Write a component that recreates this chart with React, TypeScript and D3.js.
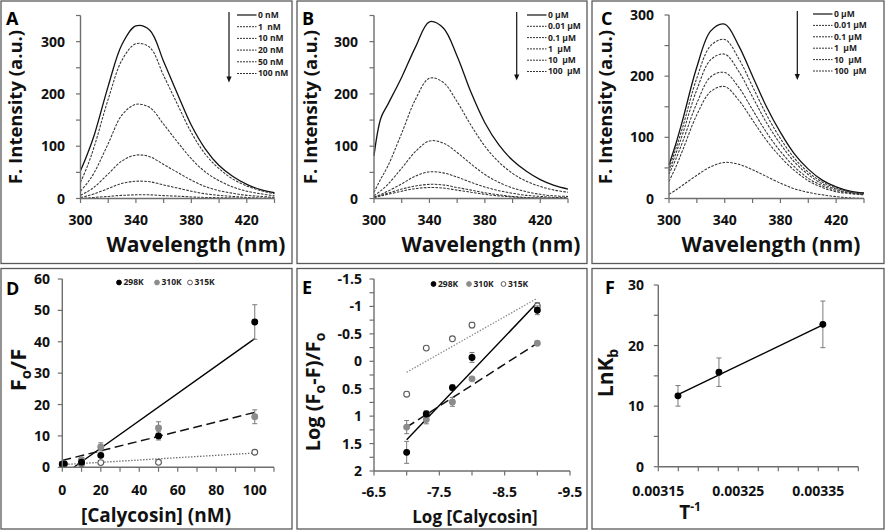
import React from "react";
import * as d3 from "d3";

const FONT = "'Open Sans', 'Liberation Sans', sans-serif";
const AXIS_COLOR = "#6e6e6e";
const CURVE_COLOR = "#333333";
const BORDER_COLOR = "#5a5a5a";

// ---------- Panels A-C : emission spectra ----------
const wavelengths = [300, 305, 310, 320, 330, 340, 350, 360, 370, 380, 390, 400, 410, 420, 430, 440];

const spectraA = [
  [53, 85, 122, 215, 295, 330, 322, 262, 200, 140, 95, 63, 42, 27, 17, 11],
  [31, 62, 100, 190, 265, 296, 289, 235, 180, 126, 85, 57, 37, 24, 15, 9],
  [14, 30, 50, 105, 160, 180, 174, 142, 108, 76, 51, 34, 22, 14, 9, 5],
  [6, 13, 22, 47, 72, 83, 80, 65, 50, 35, 23, 15, 10, 6, 4, 2],
  [2, 5, 9, 19, 29, 33, 32, 26, 20, 14, 9, 6, 4, 2, 1, 1],
  [0, 1, 2, 4, 6, 7, 7, 5.5, 4.5, 3, 2, 1.5, 1, 0.5, 0, 0],
];

const spectraB = [
  [82, 154, 180, 232, 290, 338, 326, 272, 203, 145, 103, 73, 52, 36, 25, 18],
  [12, 38, 62, 125, 190, 230, 222, 185, 140, 100, 70, 48, 33, 23, 16, 12],
  [5, 15, 27, 58, 90, 110, 106, 88, 66, 46, 31, 20, 13, 8, 5, 4],
  [3, 8, 14, 28, 43, 51, 49, 41, 31, 22, 15, 10, 6, 4, 2, 2],
  [2, 6, 10, 18, 24, 27, 26, 21, 16, 11, 7, 4, 2, 1, 1, 0],
  [2, 5, 8, 14, 19, 21, 20, 16, 12, 8, 5, 3, 1, 1, 0, 0],
];

const spectraC = [
  [55, 90, 130, 215, 274, 285, 250, 200, 150, 108, 73, 48, 30, 19, 12, 9],
  [50, 82, 118, 197, 250, 260, 229, 183, 137, 98, 66, 43, 27, 17, 11, 8],
  [45, 74, 107, 178, 227, 236, 208, 166, 124, 89, 60, 39, 24, 15, 10, 7],
  [40, 65, 94, 156, 199, 206, 182, 145, 108, 77, 52, 33, 21, 13, 9, 6],
  [28, 52, 80, 137, 175, 183, 161, 128, 95, 68, 46, 29, 18, 11, 8, 6],
  [7, 14, 22, 38, 52, 59, 56, 47, 36, 25, 16, 10, 6, 3, 1, 0],
];

const legendA = ["0 nM", "1  nM", "10 nM", "20 nM", "50 nM", "100 nM"];
const legendB = ["0 \u00b5M", "0.01 \u00b5M", "0.1 \u00b5M", "1  \u00b5M", "10  \u00b5M", "100  \u00b5M"];
const legendC = ["0 \u00b5M", "0.01 \u00b5M", "0.1 \u00b5M", "1  \u00b5M", "10  \u00b5M", "100  \u00b5M"];

const wlTicks = [300, 320, 340, 360, 380, 400, 420, 440];
const wlLabels = [300, 340, 380, 420];
const intTicksAB = [0, 50, 100, 150, 200, 250, 300, 350];
const intTicksC = [0, 50, 100, 150, 200, 250, 300];
const intLabels = [0, 100, 200, 300];

// ---------- Shared temperature series ----------
const tempLabels = ["298K", "310K", "315K"];

// ---------- Panel D : Stern-Volmer ----------
const concD = [0, 1, 10, 20, 50, 100];
const fD298 = [1.0, 1.1, 1.6, 3.8, 10.0, 46.3];
const fD298Err = [0, 0.1, 0.3, 0.5, 1.3, 5.5];
const fD310 = [1.1, 1.2, 2.4, 6.5, 12.5, 16.1];
const fD310Err = [0, 0.2, 0.6, 1.3, 2.0, 2.2];
const fD315 = [1.0, 1.0, 1.1, 1.5, 1.6, 4.8];
const fD315Err = [0, 0.1, 0.2, 0.2, 0.3, 0.3];
const fitDSlope = [0.436, 0.153, 0.037];
const fitDIntercept = [-2.6, 2.2, 0.85];
const fitDFrom = [6, 0, 0];
const fitDTo = [100, 100, 100];
const concTicks = [0, 10, 20, 30, 40, 50, 60, 70, 80, 90, 100, 110];
const concLabels = [0, 20, 40, 60, 80, 100];
const foTicks = [0, 10, 20, 30, 40, 50, 60];

// ---------- Panel E : double log ----------
const logConcE = [-7, -7.3, -7.7, -8, -9];
const eE298 = [1.66, 0.96, 0.48, -0.07, -0.93];
const eE298Err = [0.2, 0.06, 0.05, 0.09, 0.08];
const eE310 = [1.2, 1.06, 0.74, 0.32, -0.33];
const eE310Err = [0.12, 0.08, 0.08, 0.02, 0.02];
const eE315 = [0.6, -0.24, -0.41, -0.66, -1.01];
const eE315Err = [0.04, 0.02, 0.02, 0.05, 0.06];
const fitEFrom = [-7, -7, -7];
const fitETo = [-9, -9, -9];
const fitEStartY = [1.43, 1.2, 0.2];
const fitEEndY = [-1.07, -0.33, -1.15];
const logTicks = [-6.5, -7, -7.5, -8, -8.5, -9, -9.5];
const logLabels = [-6.5, -7.5, -8.5, -9.5];
const eYTicks = [-1.5, -1.25, -1, -0.75, -0.5, -0.25, 0, 0.25, 0.5, 0.75, 1, 1.25, 1.5, 1.75, 2];
const eYLabels = [-1.5, -1, -0.5, 0, 0.5, 1, 1.5, 2];

// ---------- Panel F : van't Hoff ----------
const invT = [1 / 315, 1 / 310, 1 / 298];
const lnKb = [11.7, 15.6, 23.5];
const lnKbErr = [1.7, 2.35, 3.85];
const fitFStartY = 11.9;
const fitFEndY = 23.4;
const invTTicks = d3.range(0, 11).map((i) => +(0.00315 + i * 0.000025).toFixed(6));
const invTLabels = [0.00315, 0.00325, 0.00335];
const lnTicks = [0, 5, 10, 15, 20, 25, 30];
const lnLabels = [0, 10, 20, 30];

// ---------- helpers ----------
type Scale = d3.ScaleLinear<number, number>;

const tickTextStyle: React.CSSProperties = { fontFamily: FONT, fontWeight: 700, fontSize: 14, fill: "#111" };

function XAxis({ s, y, ticks, labels, fmt, labelY }: { s: Scale; y: number; ticks: number[]; labels: number[]; fmt: (v: number) => string; labelY: number }) {
  const [r0, r1] = s.range();
  return (
    <g>
      <line x1={r0} x2={r1} y1={y} y2={y} stroke={AXIS_COLOR} strokeWidth={1.4} />
      {ticks.map((t, i) => (
        <line key={i} x1={s(t)} x2={s(t)} y1={y} y2={y + 4.5} stroke={AXIS_COLOR} strokeWidth={1.2} />
      ))}
      {labels.map((t, i) => (
        <text key={i} x={s(t)} y={labelY} textAnchor="middle" style={tickTextStyle}>
          {fmt(t)}
        </text>
      ))}
    </g>
  );
}

function YAxis({ s, x, ticks, labels, fmt, labelX }: { s: Scale; x: number; ticks: number[]; labels: number[]; fmt: (v: number) => string; labelX: number }) {
  const [r0, r1] = s.range();
  return (
    <g>
      <line x1={x} x2={x} y1={r0} y2={r1} stroke={AXIS_COLOR} strokeWidth={1.4} />
      {ticks.map((t, i) => (
        <line key={i} x1={x - 4.5} x2={x} y1={s(t)} y2={s(t)} stroke={AXIS_COLOR} strokeWidth={1.2} />
      ))}
      {labels.map((t, i) => (
        <text key={i} x={labelX} y={s(t)} dy="0.36em" textAnchor="end" style={tickTextStyle}>
          {fmt(t)}
        </text>
      ))}
    </g>
  );
}

function Border({ x0, y0, x1, y1 }: { x0: number; y0: number; x1: number; y1: number }) {
  return <rect x={x0} y={y0} width={x1 - x0} height={y1 - y0} fill="none" stroke={BORDER_COLOR} strokeWidth={1.3} />;
}

function PanelLetter({ x, y, t }: { x: number; y: number; t: string }) {
  return (
    <text x={x} y={y} style={{ fontFamily: FONT, fontWeight: 700, fontSize: 18, fill: "#000" }}>
      {t}
    </text>
  );
}

const dashCurve = "2.6,1.3";

type SpecGeom = {
  bx0: number; bx1: number;
  ax0: number; ax1: number;
  letterX: number;
  ylabX: number;
  xlabX: number;
  legLine0: number; legLine1: number; legY0: number; legStep: number;
  arrowX: number;
  yLabelX: number;
};

function SpectrumPanel({ g, letter, spectra, legend, yMax, yTicks, yTop }: { g: SpecGeom; letter: string; spectra: number[][]; legend: string[]; yMax: number; yTicks: number[]; yTop: number }) {
  const x = d3.scaleLinear().domain([300, 440]).range([g.ax0, g.ax1]);
  const y = d3.scaleLinear().domain([0, yMax]).range([198.5, yTop]);
  const line = d3
    .line<number>()
    .x((_, i) => x(wavelengths[i]))
    .y((v) => y(v))
    .curve(d3.curveCatmullRom.alpha(0.5));
  return (
    <g>
      <Border x0={g.bx0} y0={1} x1={g.bx1} y1={263.5} />
      <PanelLetter x={g.letterX} y={25} t={letter} />
      {spectra.map((s, i) => (
        <path
          key={i}
          d={line(s) || ""}
          fill="none"
          stroke={i === 0 ? "#111" : CURVE_COLOR}
          strokeWidth={i === 0 ? 1.3 : 1.05}
          strokeDasharray={i === 0 ? undefined : dashCurve}
        />
      ))}
      <XAxis s={x} y={198.5} ticks={wlTicks} labels={wlLabels} fmt={(v) => String(v)} labelY={225} />
      <YAxis s={y} x={g.ax0} ticks={yTicks} labels={intLabels} fmt={(v) => String(v)} labelX={g.yLabelX} />
      {legend.map((t, i) => {
        const ly = g.legY0 + i * g.legStep;
        return (
          <g key={i}>
            <line
              x1={g.legLine0}
              x2={g.legLine1}
              y1={ly}
              y2={ly}
              stroke={i === 0 ? "#111" : CURVE_COLOR}
              strokeWidth={i === 0 ? 1.2 : 1}
              strokeDasharray={i === 0 ? undefined : "2,1"}
            />
            <text
              x={g.legLine1 + 1.5}
              y={ly}
              dy="0.35em"
              style={{ fontFamily: FONT, fontWeight: 700, fontSize: 8.5, fill: "#222", whiteSpace: "pre" }}
            >
              {t}
            </text>
          </g>
        );
      })}
      <line x1={g.arrowX} x2={g.arrowX} y1={g.legY0 - 3} y2={g.legY0 + 5 * g.legStep + 4} stroke="#111" strokeWidth={1.2} />
      <path
        d={`M${g.arrowX - 2.6},${g.legY0 + 5 * g.legStep + 3} L${g.arrowX + 2.6},${g.legY0 + 5 * g.legStep + 3} L${g.arrowX},${g.legY0 + 5 * g.legStep + 9} Z`}
        fill="#111"
      />
      <text
        x={g.xlabX}
        y={251.5}
        textAnchor="middle"
        style={{ fontFamily: FONT, fontWeight: 700, fontSize: 21, fill: "#111" }}
      >
        Wavelength (nm)
      </text>
      <text
        transform={`translate(${g.ylabX},107) rotate(-90)`}
        textAnchor="middle"
        dy="0.35em"
        style={{ fontFamily: FONT, fontWeight: 700, fontSize: 18.5, fill: "#111" }}
      >
        F. Intensity (a.u.)
      </text>
    </g>
  );
}

const markerFill = ["#000", "#8c8c8c", "#fff"];
const markerStroke = ["#000", "#8c8c8c", "#5a5a5a"];
const fitStroke = ["#000", "#111", "#666"];
const fitDash = [undefined, "9,4.5", "1.4,1.6"];
const fitWidth = [1.4, 1.5, 1.3];
const ERR_COLOR = "#7a7a7a";

function Points({ xs, ys, errs, sx, sy, k }: { xs: number[]; ys: number[]; errs: number[]; sx: Scale; sy: Scale; k: number }) {
  return (
    <g>
      {xs.map((xv, i) => {
        const cx = sx(xv);
        const e = errs[i];
        return (
          <g key={i}>
            {e > 0 && (
              <g stroke={ERR_COLOR} strokeWidth={1}>
                <line x1={cx} x2={cx} y1={sy(ys[i] - e)} y2={sy(ys[i] + e)} />
                <line x1={cx - 2.5} x2={cx + 2.5} y1={sy(ys[i] - e)} y2={sy(ys[i] - e)} />
                <line x1={cx - 2.5} x2={cx + 2.5} y1={sy(ys[i] + e)} y2={sy(ys[i] + e)} />
              </g>
            )}
            <circle cx={cx} cy={sy(ys[i])} r={2.9} fill={markerFill[k]} stroke={markerStroke[k]} strokeWidth={1.1} />
          </g>
        );
      })}
    </g>
  );
}

function TempLegend({ xs, y }: { xs: number[]; y: number }) {
  return (
    <g>
      {tempLabels.map((t, k) => (
        <g key={k}>
          <circle cx={xs[k]} cy={y} r={2.4} fill={markerFill[k]} stroke={markerStroke[k]} strokeWidth={1} />
          <text x={xs[k] + 4.5} y={y} dy="0.35em" style={{ fontFamily: FONT, fontWeight: 700, fontSize: 8.5, fill: "#222" }}>
            {t}
          </text>
        </g>
      ))}
    </g>
  );
}

function PanelD() {
  const sx = d3.scaleLinear().domain([0, 110]).range([62.3, 274]);
  const sy = d3.scaleLinear().domain([0, 60]).range([467.3, 279]);
  const series = [fD298, fD310, fD315];
  const errs = [fD298Err, fD310Err, fD315Err];
  return (
    <g>
      <Border x0={1} y0={268.5} x1={292} y1={529} />
      <PanelLetter x={6} y={295} t="D" />
      {fitDSlope.map((m, k) => (
        <line
          key={k}
          x1={sx(fitDFrom[k])}
          y1={sy(m * fitDFrom[k] + fitDIntercept[k])}
          x2={sx(fitDTo[k])}
          y2={sy(m * fitDTo[k] + fitDIntercept[k])}
          stroke={fitStroke[k]}
          strokeWidth={fitWidth[k]}
          strokeDasharray={fitDash[k]}
        />
      ))}
      {[2, 1, 0].map((k) => (
        <Points key={k} xs={concD} ys={series[k]} errs={errs[k]} sx={sx} sy={sy} k={k} />
      ))}
      <XAxis s={sx} y={467.3} ticks={concTicks} labels={concLabels} fmt={(v) => String(v)} labelY={495} />
      <YAxis s={sy} x={62.3} ticks={foTicks} labels={foTicks} fmt={(v) => String(v)} labelX={50} />
      <TempLegend xs={[119, 157, 190]} y={282.5} />
      <text x={156} y={522} textAnchor="middle" style={{ fontFamily: FONT, fontWeight: 700, fontSize: 19, fill: "#111" }}>
        [Calycosin] (nM)
      </text>
      <text
        transform="translate(18,370) rotate(-90)"
        textAnchor="middle"
        dy="0.35em"
        style={{ fontFamily: FONT, fontWeight: 700, fontSize: 22, fill: "#111" }}
      >
        F<tspan fontSize={15} dy={5}>o</tspan>
        <tspan dy={-5}>/F</tspan>
      </text>
    </g>
  );
}

function PanelE() {
  const sx = d3.scaleLinear().domain([-6.5, -9.5]).range([374, 570]);
  const sy = d3.scaleLinear().domain([-1.5, 2]).range([279, 471]);
  const series = [eE298, eE310, eE315];
  const errs = [eE298Err, eE310Err, eE315Err];
  return (
    <g>
      <Border x0={297} y0={268.5} x1={587} y1={529} />
      <PanelLetter x={302} y={294} t="E" />
      {fitEFrom.map((f, k) => (
        <line
          key={k}
          x1={sx(f)}
          y1={sy(fitEStartY[k])}
          x2={sx(fitETo[k])}
          y2={sy(fitEEndY[k])}
          stroke={k === 2 ? "#888" : fitStroke[k]}
          strokeWidth={fitWidth[k]}
          strokeDasharray={fitDash[k]}
        />
      ))}
      {[2, 1, 0].map((k) => (
        <Points key={k} xs={logConcE} ys={series[k]} errs={errs[k]} sx={sx} sy={sy} k={k} />
      ))}
      <XAxis s={sx} y={471} ticks={logTicks} labels={logLabels} fmt={(v) => String(v)} labelY={497} />
      <YAxis s={sy} x={374} ticks={eYTicks} labels={eYLabels} fmt={(v) => String(v)} labelX={362} />
      <TempLegend xs={[433.5, 469, 503.5]} y={284} />
      <text x={475} y={523} textAnchor="middle" style={{ fontFamily: FONT, fontWeight: 700, fontSize: 17, fill: "#111" }}>
        Log [Calycosin]
      </text>
      <text
        transform="translate(313,392) rotate(-90)"
        textAnchor="middle"
        dy="0.35em"
        style={{ fontFamily: FONT, fontWeight: 700, fontSize: 20, fill: "#111" }}
      >
        Log (F<tspan fontSize={14} dy={5}>o</tspan>
        <tspan dy={-5}>-F)/F</tspan>
        <tspan fontSize={14} dy={5}>o</tspan>
      </text>
    </g>
  );
}

function PanelF() {
  const sx = d3.scaleLinear().domain([0.00315, 0.0034]).range([658.3, 858.3]);
  const sy = d3.scaleLinear().domain([0, 30]).range([466.7, 285]);
  return (
    <g>
      <Border x0={592} y0={268.5} x1={884} y1={529} />
      <PanelLetter x={605} y={294} t="F" />
      <line
        x1={sx(invT[0])}
        y1={sy(fitFStartY)}
        x2={sx(invT[invT.length - 1])}
        y2={sy(fitFEndY)}
        stroke="#000"
        strokeWidth={1.4}
      />
      <Points xs={invT} ys={lnKb} errs={lnKbErr} sx={sx} sy={sy} k={0} />
      <XAxis s={sx} y={466.7} ticks={invTTicks} labels={invTLabels} fmt={(v) => v.toFixed(5)} labelY={496} />
      <YAxis s={sy} x={658.3} ticks={lnTicks} labels={lnLabels} fmt={(v) => String(v)} labelX={644} />
      <text x={690} y={519} textAnchor="middle" style={{ fontFamily: FONT, fontWeight: 700, fontSize: 19, fill: "#111" }}>
        T<tspan fontSize={12} dy={-8}>-1</tspan>
      </text>
      <text
        transform="translate(606,373) rotate(-90)"
        textAnchor="middle"
        dy="0.35em"
        style={{ fontFamily: FONT, fontWeight: 700, fontSize: 21, fill: "#111" }}
      >
        LnK<tspan fontSize={14} dy={5}>b</tspan>
      </text>
    </g>
  );
}

const geomA: SpecGeom = {
  bx0: 1, bx1: 292, ax0: 80.5, ax1: 274.5, letterX: 6, ylabX: 16, xlabX: 196,
  legLine0: 237, legLine1: 256.5, legY0: 15, legStep: 11.7, arrowX: 229, yLabelX: 65,
};
const geomB: SpecGeom = {
  bx0: 297, bx1: 587, ax0: 374, ax1: 568, letterX: 302, ylabX: 311, xlabX: 491,
  legLine0: 527, legLine1: 546.5, legY0: 15, legStep: 11.3, arrowX: 516.7, yLabelX: 358,
};
const geomC: SpecGeom = {
  bx0: 592, bx1: 884, ax0: 669, ax1: 864, letterX: 601, ylabX: 606, xlabX: 771,
  legLine0: 813, legLine1: 832.5, legY0: 14, legStep: 11.4, arrowX: 797.3, yLabelX: 654,
};

export default function App() {
  return (
    <svg
      width={886}
      height={531}
      viewBox="0 0 886 531"
      style={{ position: "absolute", left: 0, top: 0, background: "#fff" }}
    >
      <rect x={0} y={0} width={886} height={531} fill="#fff" />
      <SpectrumPanel g={geomA} letter="A" spectra={spectraA} legend={legendA} yMax={350} yTicks={intTicksAB} yTop={15.5} />
      <SpectrumPanel g={geomB} letter="B" spectra={spectraB} legend={legendB} yMax={350} yTicks={intTicksAB} yTop={15.5} />
      <SpectrumPanel g={geomC} letter="C" spectra={spectraC} legend={legendC} yMax={300} yTicks={intTicksC} yTop={15} />
      <PanelD />
      <PanelE />
      <PanelF />
    </svg>
  );
}
